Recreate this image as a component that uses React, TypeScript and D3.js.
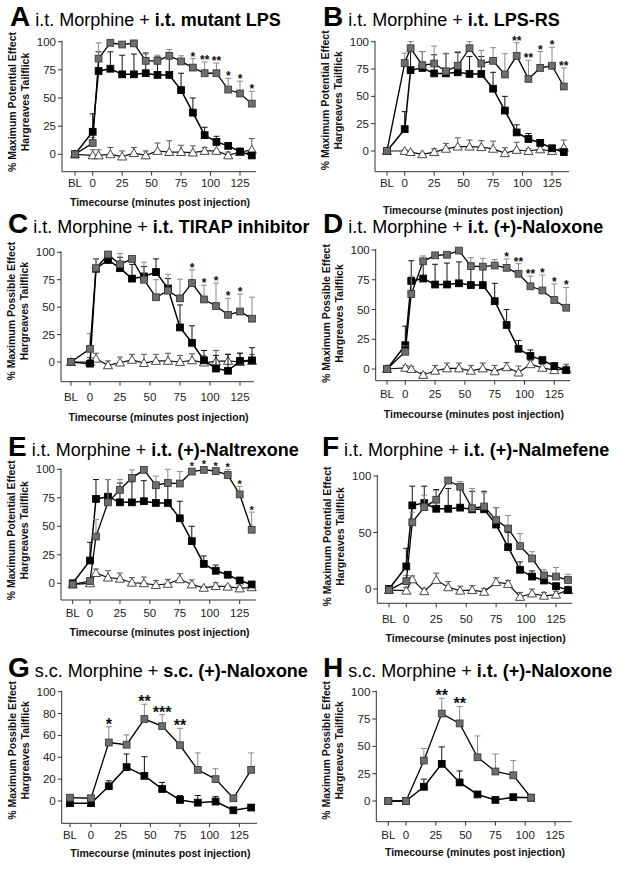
import React from 'react';
import * as d3 from 'd3';

const FONT = "'Liberation Sans', Arial, Helvetica, sans-serif";

// ---------- time points ----------
const timesIT: (number | string)[] = ['BL', 0, 5, 15, 25, 35, 45, 55, 65, 75, 85, 95, 105, 115, 125, 135];
const timesSC: (number | string)[] = ['BL', 0, 15, 30, 45, 60, 75, 90, 105, 120, 135];
const timesSCH: (number | string)[] = ['BL', 0, 15, 30, 45, 60, 75, 90, 105];
const xTickLabels: (number | string)[] = ['BL', 0, 25, 50, 75, 100, 125];
const yTicks25 = [0, 25, 50, 75, 100];
const yTicks50 = [0, 50, 100];
const yTicks20 = [0, 20, 40, 60, 80, 100];

// ---------- morphine alone (black) ----------
const morphineIT = [0, 20, 74, 76, 71, 71, 72, 70.5, 70.5, 57, 37, 17, 11, 7.5, 2.5, -1];
const morphineITErr = [0, 16, 17, 15, 17, 18, 18, 16, 16, 15, 13, 7, 5, 2, 2, 1];

// ---------- A: mutant LPS ----------
const mutantLPS = [0, 10, 85, 99, 97.5, 98.5, 83, 83, 87.5, 82.5, 77, 72, 72, 57.5, 54, 45];
const mutantLPSErr = [0, 5, 14, 1, 1, 1, 6, 5, 5.5, 5, 8, 10, 9, 10, 11, 11];
const mutantLPSStars = ['', '', '', '', '', '', '', '', '', '', '*', '**', '**', '*', '*', '*'];
const vehicleA = [0, -1, -1, 0, -2, 1, -1, 3, 2, 2, 1.5, 3, 3, -1, 2, 4];
const vehicleAErr = [0, 5, 5, 6, 5, 5, 4, 7, 10, 6, 6, 3, 6, 3, 3, 10];

// ---------- B: LPS-RS ----------
const lpsRS = [0, 80.5, 94, 78.5, 80, 73, 78, 94, 80, 82.5, 70, 87, 66, 76, 78, 59];
const lpsRSErr = [0, 9, 6, 12.5, 16, 16.5, 13, 6, 12, 12, 19, 12, 17, 15, 17, 17];
const lpsRSStars = ['', '', '', '', '', '', '', '', '', '', '', '**', '**', '*', '*', '**'];
const vehicleB = [0, 0, -1, -3, -1, 2, 4, 4, 3.5, 2, -2, 1, 0, 1.5, 0, 3];
const vehicleBErr = [0, 1, 1, 1, 3, 5, 8, 6, 6, 7, 5, 7, 2, 3, 1, 7];

// ---------- C: TIRAP inhibitor ----------
const tirap = [0, 12, 85.5, 98, 89, 94, 75, 59, 65, 58, 72, 57, 51, 43, 46, 39.5];
const tirapErr = [0, 14, 8.5, 1, 10, 1, 16, 16, 15, 17.5, 12, 13, 21, 15, 16, 19.5];
const tirapStars = ['', '', '', '', '', '', '', '', '', '', '*', '*', '*', '*', '*', ''];
const morphineC = [0, -1.5, 85, 93, 85.5, 76, 78, 82, 67, 31.5, 17.5, 1.5, -6, -8, 1, 1.5];
const morphineCErr = [0, 3, 9, 3, 10, 13, 9, 12, 9, 20.5, 15.5, 9, 12, 15, 7, 11.5];
const vehicleC = [0, 0, 3, -3, -0.5, 2, -1, 1, 1, 0, 1.5, -0.5, 0.5, 1, 0, 1];
const vehicleCErr = [0, 4, 5, 4, 5, 5, 8, 6, 7, 6, 6, 6, 10, 6, 8, 6];

// ---------- D: (+)-Naloxone i.t. ----------
const naloxoneIT = [0, 14.5, 63, 90.5, 95.5, 96, 99.5, 86.5, 86, 87, 85, 80, 69.5, 66, 58, 51.5];
const naloxoneITErr = [0, 5, 15, 4.5, 2, 2, 1, 7, 7, 5, 7.5, 8.5, 8.5, 13, 13.5, 17];
const naloxoneITStars = ['', '', '', '', '', '', '', '', '', '', '*', '**', '**', '*', '*', '*'];
const vehicleD = [0, 1, 0, -5, -1.5, 0.5, 0.5, -1.5, 0.5, -2, 1.5, -3, 4, 1, -1, 0];
const vehicleDErr = [0, 2, 2, 2, 4.5, 4.5, 4.5, 4.5, 4.5, 5, 4, 5.5, 3, 3, 3, 4];

// ---------- E: (+)-Naltrexone ----------
const naltrexone = [-1, 2, 41, 71, 82, 92.5, 99.5, 86, 88, 87.5, 98, 99.5, 98.5, 95, 78, 47];
const naltrexoneErr = [0, 3, 15, 20, 9, 7, 1, 8, 12, 10.5, 1, 1, 1, 5, 7, 15.5];
const naltrexoneStars = ['', '', '', '', '', '', '', '', '', '', '*', '*', '*', '*', '*', '*'];
const vehicleE = [-1, 0, 9, 5, 4, 0.5, 0, -1.5, -0.5, 3.5, -1, -4, -2.5, -3, -4.5, -3.5];
const vehicleEErr = [0, 2, 3.5, 6, 5, 4.5, 5.5, 4, 4, 5, 4, 1, 3, 1, 2, 1];

// ---------- F: (+)-Nalmefene ----------
const nalmefene = [-1, 7, 59, 72.5, 79, 96, 90.5, 71.5, 73, 61, 53.5, 38, 27, 12, 11, 8];
const nalmefeneErr = [0, 5, 9, 10.5, 8, 1.5, 4.5, 17.5, 12, 11, 11.5, 11, 6, 5, 8, 5];
const nalmefeneStars: string[] = [];
const vehicleF = [-1, -1.5, 8.5, -2, 8, 1.5, -1.5, -1, -2.5, 6, 4.5, -7, -4, -6, -5, -1];
const vehicleFErr = [0, 3, 3, 2, 6, 5, 4, 4, 3, 4, 3, 4, 4, 3, 3, 3];

// ---------- G: s.c. morphine + s.c. (+)-Naloxone ----------
const naloxoneSC = [3, 2.5, 53.5, 51.5, 75, 68.5, 51, 28.5, 20, 2.5, 28.5];
const naloxoneSCErr = [0, 2, 14.5, 9, 13.5, 10.5, 15.5, 15.5, 9.5, 2, 15.5];
const naloxoneSCStars = ['', '', '*', '', '**', '***', '**', '', '', '', ''];
const morphineSC = [-2, -2, 13.5, 31, 23, 11, 1, -1.5, -0.5, -8.5, -6];
const morphineSCErr = [0, 1, 5, 12, 17.5, 6, 4, 6.5, 4.5, 1, 1];

// ---------- H: s.c. morphine + i.t. (+)-Naloxone ----------
const naloxoneH = [0, 0, 37, 80, 71, 40, 27, 23.5, 3];
const naloxoneHErr = [0, 1, 11, 14, 15.5, 19.5, 16, 13.5, 1];
const naloxoneHStars = ['', '', '', '**', '**', '', '', '', ''];
const morphineH = [0, 0, 13, 34, 17, 6, 1, 3.5, 3];
const morphineHErr = [0, 0, 7, 15.5, 10.5, 1, 1, 1, 1];

type Series = { values: number[]; errors: number[] };
type Panel = {
  letter: string; prefix: string; agent: string; effectWord: string;
  times: (number | string)[]; yTicks: number[];
  vehicle?: Series; morphine: Series; treated: Series; stars: string[];
  starSize: number;
};

const panels: Panel[] = [
  { letter: 'A', prefix: 'i.t. Morphine +', agent: 'i.t. mutant LPS', effectWord: 'Potential', times: timesIT, yTicks: yTicks25,
    vehicle: { values: vehicleA, errors: vehicleAErr }, morphine: { values: morphineIT, errors: morphineITErr },
    treated: { values: mutantLPS, errors: mutantLPSErr }, stars: mutantLPSStars, starSize: 12 },
  { letter: 'B', prefix: 'i.t. Morphine +', agent: 'i.t. LPS-RS', effectWord: 'Potential', times: timesIT, yTicks: yTicks25,
    vehicle: { values: vehicleB, errors: vehicleBErr }, morphine: { values: morphineIT, errors: morphineITErr },
    treated: { values: lpsRS, errors: lpsRSErr }, stars: lpsRSStars, starSize: 12 },
  { letter: 'C', prefix: 'i.t. Morphine +', agent: 'i.t. TIRAP inhibitor', effectWord: 'Possible', times: timesIT, yTicks: yTicks25,
    vehicle: { values: vehicleC, errors: vehicleCErr }, morphine: { values: morphineC, errors: morphineCErr },
    treated: { values: tirap, errors: tirapErr }, stars: tirapStars, starSize: 12 },
  { letter: 'D', prefix: 'i.t. Morphine +', agent: 'i.t. (+)-Naloxone', effectWord: 'Possible', times: timesIT, yTicks: yTicks25,
    vehicle: { values: vehicleD, errors: vehicleDErr }, morphine: { values: morphineIT, errors: morphineITErr },
    treated: { values: naloxoneIT, errors: naloxoneITErr }, stars: naloxoneITStars, starSize: 12 },
  { letter: 'E', prefix: 'i.t. Morphine +', agent: 'i.t. (+)-Naltrexone', effectWord: 'Potential', times: timesIT, yTicks: yTicks25,
    vehicle: { values: vehicleE, errors: vehicleEErr }, morphine: { values: morphineIT, errors: morphineITErr },
    treated: { values: naltrexone, errors: naltrexoneErr }, stars: naltrexoneStars, starSize: 11 },
  { letter: 'F', prefix: 'i.t. Morphine +', agent: 'i.t. (+)-Nalmefene', effectWord: 'Potential', times: timesIT, yTicks: yTicks50,
    vehicle: { values: vehicleF, errors: vehicleFErr }, morphine: { values: morphineIT, errors: morphineITErr },
    treated: { values: nalmefene, errors: nalmefeneErr }, stars: nalmefeneStars, starSize: 12 },
  { letter: 'G', prefix: 's.c. Morphine +', agent: 's.c. (+)-Naloxone', effectWord: 'Possible', times: timesSC, yTicks: yTicks20,
    morphine: { values: morphineSC, errors: morphineSCErr },
    treated: { values: naloxoneSC, errors: naloxoneSCErr }, stars: naloxoneSCStars, starSize: 16 },
  { letter: 'H', prefix: 's.c. Morphine +', agent: 'i.t. (+)-Naloxone', effectWord: 'Possible', times: timesSCH, yTicks: yTicks25,
    morphine: { values: morphineH, errors: morphineHErr },
    treated: { values: naloxoneH, errors: naloxoneHErr }, stars: naloxoneHStars, starSize: 16 },
];

// ---------- layout (pixel geometry per panel) ----------
type Layout = {
  titleX: number; titleY: number; axisX: number; y0: number; y100: number; axisBottom: number;
  xBL: number; x0: number; x125: number; axisRight: number; tickLabelY: number; xTitleY: number;
};
const layouts: Layout[] = [
  { titleX: 10, titleY: 26, axisX: 62, y0: 154.3, y100: 41.7, axisBottom: 171.7, xBL: 75, x0: 92.7, x125: 240, axisRight: 256, tickLabelY: 187, xTitleY: 205.5 },
  { titleX: 323, titleY: 26, axisX: 375, y0: 151, y100: 41.7, axisBottom: 171.7, xBL: 387, x0: 404.7, x125: 552, axisRight: 569, tickLabelY: 187, xTitleY: 214 },
  { titleX: 8, titleY: 233.3, axisX: 61, y0: 362, y100: 252.3, axisBottom: 381.7, xBL: 71, x0: 90, x125: 240, axisRight: 254, tickLabelY: 400.5, xTitleY: 421 },
  { titleX: 323, titleY: 233.3, axisX: 375.7, y0: 369, y100: 250, axisBottom: 380.7, xBL: 387, x0: 405.3, x125: 554.3, axisRight: 570, tickLabelY: 398, xTitleY: 418 },
  { titleX: 8, titleY: 456, axisX: 61, y0: 583.3, y100: 469.3, axisBottom: 600, xBL: 72.7, x0: 90, x125: 239.7, axisRight: 256, tickLabelY: 616.5, xTitleY: 635.5 },
  { titleX: 322, titleY: 456, axisX: 377.3, y0: 589, y100: 476, axisBottom: 603.3, xBL: 389, x0: 406.3, x125: 556, axisRight: 572, tickLabelY: 623, xTitleY: 642 },
  { titleX: 8, titleY: 676.7, axisX: 61.7, y0: 801, y100: 691.7, axisBottom: 823.3, xBL: 70, x0: 91, x125: 239.3, axisRight: 257, tickLabelY: 839, xTitleY: 857 },
  { titleX: 323, titleY: 676.7, axisX: 376.3, y0: 801, y100: 691.7, axisBottom: 821.7, xBL: 388.3, x0: 406, x125: 555, axisRight: 571.7, tickLabelY: 838.5, xTitleY: 855.5 },
];

const GRAY_FILL = '#6e6e6e';
const GRAY_STROKE = '#3a3a3a';
const SQ = 6.8;
const CAP = 3;

function ChartPanel({ p, l }: { p: Panel; l: Layout }) {
  const y = d3.scaleLinear().domain([0, 100]).range([l.y0, l.y100]);
  const x = d3.scaleLinear().domain([0, 125]).range([l.x0, l.x125]);
  const px = (t: number | string) => (t === 'BL' ? l.xBL : x(t as number));
  const line = d3.line<number>().x((_, i) => px(p.times[i])).y((v) => y(v));

  const errBars = (s: Series, color: string, key: string) =>
    s.values.map((v, i) => {
      const e = s.errors[i];
      if (!e) return null;
      const cx = px(p.times[i]);
      const yt = y(v + e);
      return (
        <g key={key + i} stroke={color} strokeWidth={1}>
          <line x1={cx} x2={cx} y1={y(v)} y2={yt} />
          <line x1={cx - CAP} x2={cx + CAP} y1={yt} y2={yt} />
        </g>
      );
    });

  const squares = (s: Series, fill: string, stroke: string, key: string) =>
    s.values.map((v, i) => (
      <rect key={key + i} x={px(p.times[i]) - SQ / 2} y={y(v) - SQ / 2} width={SQ} height={SQ}
        fill={fill} stroke={stroke} strokeWidth={0.9} />
    ));

  const tri = d3.symbol(d3.symbolTriangle, 36);
  const midY = (l.y0 + l.y100) / 2 + 4;

  return (
    <g fontFamily={FONT}>
      {/* title */}
      <text x={l.titleX} y={l.titleY} fill="#000" style={{ whiteSpace: 'pre' }}>
        <tspan fontWeight="bold" fontSize={28}>{p.letter}</tspan>
        <tspan fontSize={18} dx={5}>{p.prefix}</tspan>
        <tspan fontSize={18} fontWeight="bold" dx={5}>{p.agent}</tspan>
      </text>

      {/* y label */}
      <text transform={`translate(${l.axisX - 46},${midY}) rotate(-90)`} textAnchor="middle"
        fontSize={10.5} fontWeight="bold" fill="#111">{`% Maximum ${p.effectWord} Effect`}</text>
      <text transform={`translate(${l.axisX - 33},${midY}) rotate(-90)`} textAnchor="middle"
        fontSize={10.5} fontWeight="bold" fill="#111">Hargreaves Tailflick</text>

      {/* axes */}
      <g stroke="#333" strokeWidth={1} fill="none">
        <line x1={l.axisX} x2={l.axisX} y1={l.y100 - 1} y2={l.axisBottom} />
        <line x1={l.axisX} x2={l.axisRight} y1={l.axisBottom} y2={l.axisBottom} />
        {p.yTicks.map((t) => (
          <line key={'yt' + t} x1={l.axisX - 4} x2={l.axisX} y1={y(t)} y2={y(t)} />
        ))}
        {xTickLabels.map((t) => (
          <line key={'xt' + t} x1={px(t)} x2={px(t)} y1={l.axisBottom} y2={l.axisBottom + 4} />
        ))}
      </g>
      {p.yTicks.map((t) => (
        <text key={'yl' + t} x={l.axisX - 6} y={y(t) + 4} textAnchor="end" fontSize={11.5} fill="#222">{t}</text>
      ))}
      {xTickLabels.map((t) => (
        <text key={'xl' + t} x={px(t)} y={l.tickLabelY} textAnchor="middle" fontSize={11.5} fill="#222">{t}</text>
      ))}
      <text x={(l.axisX + l.axisRight) / 2 + 1} y={l.xTitleY} textAnchor="middle" fontSize={10.5} fontWeight="bold" fill="#111">
        Timecourse (minutes post injection)
      </text>

      {/* vehicle (white triangles) */}
      {p.vehicle && (
        <g>
          {errBars(p.vehicle, '#555', 've')}
          <path d={line(p.vehicle.values) || ''} fill="none" stroke="#111" strokeWidth={1.2} />
          {p.vehicle.values.map((v, i) => (
            <path key={'vt' + i} d={tri() || ''} transform={`translate(${px(p.times[i])},${y(v) + 0.8})`}
              fill="#fff" stroke="#333" strokeWidth={0.9} />
          ))}
        </g>
      )}

      {/* morphine alone (black squares) */}
      <g>
        {errBars(p.morphine, '#111', 'me')}
        <path d={line(p.morphine.values) || ''} fill="none" stroke="#000" strokeWidth={1.5} />
        {squares(p.morphine, '#000', '#000', 'ms')}
      </g>

      {/* morphine + treatment (gray squares) */}
      <g>
        {errBars(p.treated, '#8a8a8a', 'te')}
        <path d={line(p.treated.values) || ''} fill="none" stroke="#000" strokeWidth={1.3} />
        {squares(p.treated, GRAY_FILL, GRAY_STROKE, 'ts')}
      </g>

      {/* significance */}
      {p.stars.map((s, i) => {
        if (!s) return null;
        const v = p.treated.values[i] + (p.treated.errors[i] || 0);
        const top = Math.min(y(v), y(p.treated.values[i]) - SQ / 2);
        return (
          <text key={'st' + i} x={px(p.times[i])} y={top + (p.starSize > 12 ? 3 : 2)} textAnchor="middle"
            fontSize={p.starSize} fontWeight="bold" fill="#111">{s}</text>
        );
      })}
    </g>
  );
}

export default function App() {
  return (
    <svg width={626} height={869} viewBox="0 0 626 869"
      style={{ position: 'absolute', left: 0, top: 0, background: '#fff' }}>
      <rect x={0} y={0} width={626} height={869} fill="#fff" />
      {panels.map((p, i) => (
        <ChartPanel key={p.letter} p={p} l={layouts[i]} />
      ))}
    </svg>
  );
}
